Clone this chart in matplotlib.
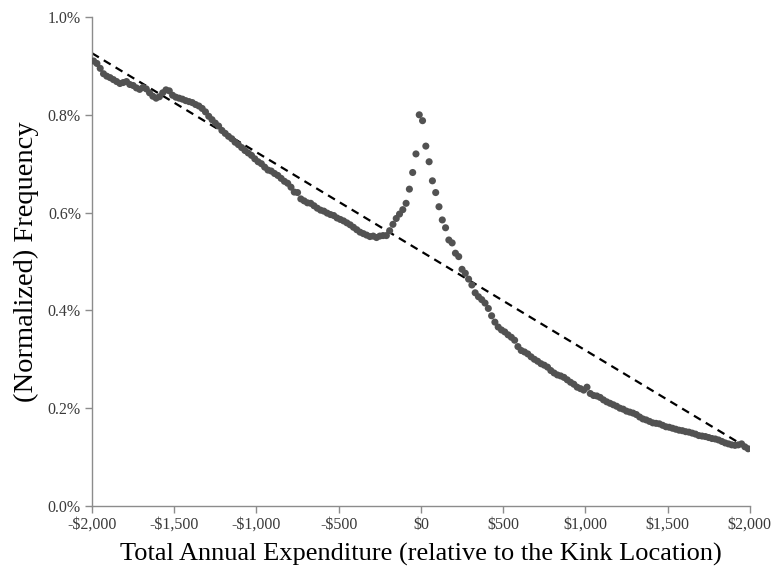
import matplotlib
matplotlib.use("Agg")
import matplotlib.pyplot as plt
import numpy as np

plt.rcParams["font.family"] = ["Liberation Serif", "DejaVu Serif"]

# bin centres ($20 bins) relative to the kink
spend_left = [
    0.910, 0.905, 0.895, 0.884, 0.879, 0.876, 0.872, 0.868, 0.864, 0.866,
    0.868, 0.862, 0.860, 0.855, 0.852, 0.856, 0.853, 0.845, 0.838, 0.834,
    0.837, 0.845, 0.851, 0.849, 0.840, 0.836, 0.834, 0.832, 0.829, 0.827,
    0.825, 0.821, 0.818, 0.813, 0.806, 0.797, 0.790, 0.783, 0.777, 0.768,
    0.762, 0.756, 0.751, 0.744, 0.739, 0.733, 0.727, 0.722, 0.717, 0.710,
    0.704, 0.700, 0.693, 0.687, 0.685, 0.680, 0.676, 0.670, 0.664, 0.660,
    0.652, 0.642,
]
spend_mid = [
    0.641, 0.628, 0.624, 0.620, 0.619, 0.614, 0.609, 0.605, 0.603, 0.599,
    0.596, 0.594, 0.589, 0.586, 0.583, 0.579, 0.575, 0.570, 0.565, 0.560,
    0.557, 0.554, 0.551, 0.552, 0.549, 0.552, 0.553, 0.553, 0.563, 0.576,
    0.588, 0.597, 0.606, 0.619, 0.648, 0.682, 0.720, 0.800,
    0.788, 0.736, 0.704, 0.665, 0.641, 0.612, 0.585, 0.569, 0.544, 0.538,
    0.517, 0.510, 0.484, 0.476, 0.464, 0.452, 0.436, 0.428,
]
spend_right = [
    0.422, 0.415, 0.404, 0.389, 0.376, 0.366, 0.360, 0.356, 0.350, 0.345,
    0.339, 0.326, 0.318, 0.315, 0.311, 0.305, 0.300, 0.296, 0.291, 0.288,
    0.284, 0.277, 0.272, 0.268, 0.266, 0.263, 0.258, 0.253, 0.249, 0.243,
    0.240, 0.237, 0.243, 0.230, 0.226, 0.225, 0.222, 0.217, 0.213, 0.210,
    0.207, 0.204, 0.200, 0.198, 0.194, 0.192, 0.190, 0.187, 0.182, 0.178,
    0.176, 0.173, 0.170, 0.169, 0.168, 0.165, 0.162, 0.161, 0.159, 0.157,
    0.155, 0.154, 0.152, 0.151, 0.149, 0.147, 0.144, 0.143, 0.142, 0.140,
    0.138, 0.137, 0.135, 0.132, 0.129, 0.127, 0.125, 0.124, 0.125, 0.127,
    0.121, 0.117,
]
freq = np.array(spend_left + spend_mid + spend_right)
bins = np.arange(-1990, 2000, 20)

# counterfactual (dashed) line
fit_x = [-2000, 1960]
fit_y = [0.926, 0.124]

xticks = [-2000, -1500, -1000, -500, 0, 500, 1000, 1500, 2000]
xtick_labels = ["-$2,000", "-$1,500", "-$1,000", "-$500", "$0",
                "$500", "$1,000", "$1,500", "$2,000"]
yticks = [0.0, 0.2, 0.4, 0.6, 0.8, 1.0]
ytick_labels = ["0.0%", "0.2%", "0.4%", "0.6%", "0.8%", "1.0%"]

fig = plt.figure(figsize=(7.73, 5.67), dpi=100)
ax = fig.add_axes([0.119, 0.1076, 0.851, 0.8624])

ax.scatter(bins, freq, s=26, color="#525252", edgecolors="none", zorder=3)
line, = ax.plot(fit_x, fit_y, color="black", lw=1.6, zorder=2)
line.set_dashes([3.6, 2.6])

ax.set_xlim(-2000, 2000)
ax.set_ylim(0, 1.0)
ax.set_xticks(xticks)
ax.set_xticklabels([s.replace("$", r"\$") for s in xtick_labels])
ax.set_yticks(yticks)
ax.set_yticklabels(ytick_labels)

for side in ["top", "right"]:
    ax.spines[side].set_visible(False)
for side in ["left", "bottom"]:
    ax.spines[side].set_color("#8c8c8c")
    ax.spines[side].set_linewidth(1.0)
ax.tick_params(axis="both", direction="out", length=5, width=1.0,
               color="#8c8c8c", labelsize=11.5, labelcolor="#3a3a3a", pad=3)

ax.set_xlabel("Total Annual Expenditure (relative to the Kink Location)",
              fontsize=19, labelpad=7)
ax.set_ylabel("(Normalized) Frequency", fontsize=20.5, labelpad=6)

fig.savefig("out.png", dpi=100)
